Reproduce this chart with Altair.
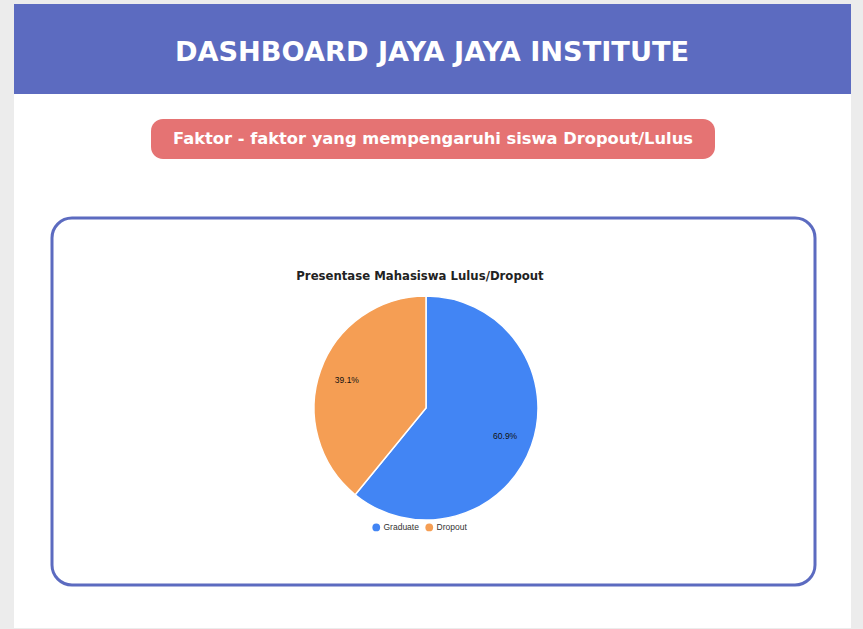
import altair as alt
import pandas as pd

# ---- data ----
categories = ["Graduate", "Dropout"]
percentages = [60.9, 39.1]
colors = ["#4285f4", "#f59e54"]

header_title = "DASHBOARD JAYA JAYA INSTITUTE"
subtitle = "Faktor - faktor yang mempengaruhi siswa Dropout/Lulus"
pie_title = "Presentase Mahasiswa Lulus/Dropout"

df = pd.DataFrame({"status": categories, "pct": percentages, "order": [0, 1]})
df["label"] = df["pct"].map(lambda v: f"{v:.1f}%")

W, H = 863, 629
blank = alt.Data(values=[{}])
FONT = "DejaVu Sans"

def box(x1, x2, y1, y2, **kw):
    return alt.Chart(blank).mark_rect(**kw).encode(
        x=alt.value(x1), x2=alt.value(x2), y=alt.value(y1), y2=alt.value(y2)
    )

def label(text, x, y, **kw):
    return alt.Chart(blank).mark_text(text=text, align="center", baseline="middle", **kw).encode(
        x=alt.value(x), y=alt.value(y)
    )

panel = box(14, 851, 4, 628, fill="white")
header = box(14, 851, 4, 94, fill="#5c6bc0")
header_txt = label(header_title, 432, 53, font=FONT, fontSize=27.2, fontWeight="bold", color="white")
pill = box(151, 715, 119, 159, fill="#e57373", cornerRadius=12)
pill_txt = label(subtitle, 433, 139, font=FONT, fontSize=16.3, fontWeight="bold", color="white")
frame = box(52, 815, 218, 585, fill="white", stroke="#5c6bc0", strokeWidth=3, cornerRadius=20)
ptitle = label(pie_title, 420, 276, font=FONT, fontSize=11.7, fontWeight="bold", color="#222222")

CX, CY = 426, 408
base = alt.Chart(df).encode(
    theta=alt.Theta("pct:Q", stack=True),
    order=alt.Order("order:Q"),
    x=alt.value(CX),
    y=alt.value(CY),
)
arcs = base.mark_arc(outerRadius=112, stroke="white", strokeWidth=1.5).encode(
    color=alt.Color(
        "status:N",
        scale=alt.Scale(domain=categories, range=colors),
        sort=categories,
        legend=alt.Legend(
            orient="none", legendX=372, legendY=523, direction="horizontal", title=None,
            symbolType="circle", symbolSize=60, symbolStrokeWidth=0,
            labelFontSize=8.5, labelFont="Liberation Sans", labelColor="#333333",
            columnPadding=6, labelOffset=3,
        ),
    )
)
texts = base.mark_text(radius=84, fontSize=8.5, font="Liberation Sans", color="#111111").encode(
    text="label:N"
)

chart = alt.layer(panel, header, header_txt, pill, pill_txt, frame, ptitle, arcs, texts).properties(
    width=W, height=H, autosize=alt.AutoSizeParams(type="none"), padding=0,
    background="#ececec",
).configure_view(stroke=None)

chart.save("out.html", embed_options={"renderer": "svg", "actions": False})
